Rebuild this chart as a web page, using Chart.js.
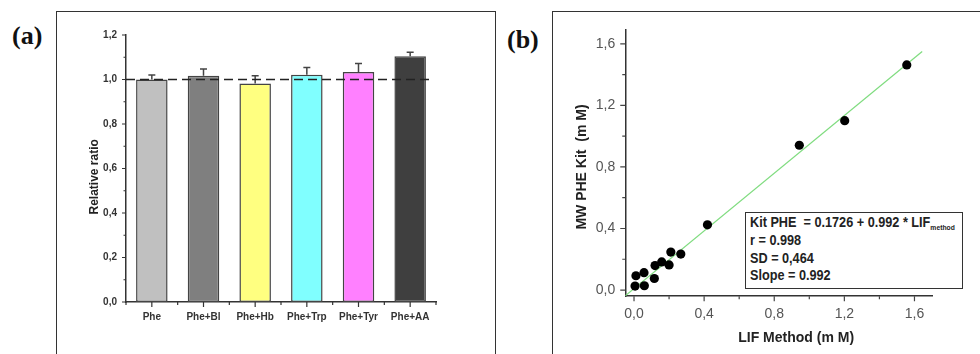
<!DOCTYPE html>
<html><head><meta charset="utf-8">
<script src="https://cdn.jsdelivr.net/npm/chart.js@4.4.1/dist/chart.umd.min.js"></script>
<style>
html,body{margin:0;padding:0;background:#fff;width:980px;height:354px;overflow:hidden;}
#wrap{position:relative;width:980px;height:354px;}
.frame{position:absolute;border:1.5px solid #333;box-sizing:border-box;}
#fa{left:56px;top:11px;width:440px;height:360px;}
#fb{left:552px;top:11px;width:440px;height:360px;}
.panel{position:absolute;font-family:"Liberation Serif","Times New Roman",serif;font-weight:bold;font-size:26px;line-height:30px;color:#111;}
#pa{left:12px;top:21px;}
#pb{left:507px;top:25px;}
canvas{position:absolute;top:0;}
#ca{left:0;}
#cb{left:490px;}
#eq{position:absolute;left:745px;top:212px;width:218px;height:77px;border:1.5px solid #333;box-sizing:border-box;background:#fff;}
#eq .t{position:absolute;left:4px;top:0px;font-family:"Liberation Sans",Arial,sans-serif;font-weight:bold;font-size:15px;line-height:17.8px;color:#222;transform:scaleX(0.845);transform-origin:0 0;white-space:nowrap;}
#eq sub{font-size:8px;line-height:0;vertical-align:baseline;position:relative;top:3px;font-weight:bold;}
</style></head>
<body><div id="wrap">
<div class="frame" id="fa"></div>
<div class="frame" id="fb"></div>
<div class="panel" id="pa">(a)</div>
<div class="panel" id="pb">(b)</div>
<canvas id="ca" width="490" height="354"></canvas>
<canvas id="cb" width="490" height="354"></canvas>
<div id="eq"><div class="t">Kit PHE&nbsp; = 0.1726 + 0.992 * LIF<sub>method</sub><br>r = 0.998<br>SD = 0,464<br>Slope = 0.992</div></div>
</div>
<script>
// ---- Panel (a) data ----
const categories = ['Phe','Phe+Bl','Phe+Hb','Phe+Trp','Phe+Tyr','Phe+AA'];
const ratios     = [1.000, 1.017, 0.982, 1.021, 1.034, 1.104];
const ratioErr   = [0.020, 0.030, 0.035, 0.033, 0.038, 0.018];
const barColors  = ['#c0c0c0','#7f7f7f','#ffff80','#80ffff','#ff80ff','#3f3f3f'];
const aYTicks    = [0, 0.2, 0.4, 0.6, 0.8, 1.0, 1.2];
const refValue   = 1.0;

// ---- Panel (b) data ----
const lifX = [1.556, 1.202, 0.943, 0.419, 0.267, 0.210, 0.200, 0.158, 0.120, 0.116, 0.057, 0.059, 0.011, 0.006];
const kitY = [1.463, 1.101, 0.941, 0.424, 0.234, 0.247, 0.163, 0.183, 0.159, 0.075, 0.113, 0.028, 0.093, 0.026];
const fitX = [-0.05, 1.644];
const fitY = [-0.037, 1.55];
const bTicks = [0, 0.4, 0.8, 1.2, 1.6];

const fmt = v => v.toFixed(1).replace('.', ',');

const tickMarks = {
  id: 'tickMarks',
  afterDraw(chart, args, opts) {
    const ctx = chart.ctx; ctx.save();
    ctx.strokeStyle = opts.color; ctx.lineWidth = opts.width;
    ctx.beginPath();
    for (const id of Object.keys(opts.axes)) {
      const sc = chart.scales[id]; const a = opts.axes[id];
      const marks = [];
      if (sc.type === 'category') {
        const n = sc.getLabels().length;
        for (let i = 0; i < n; i++) marks.push([sc.getPixelForValue(i), a.majorLen]);
        for (let i = 0; i <= n; i++) marks.push([sc.getPixelForValue(i - 0.5), a.minorLen]);
      } else {
        const n = Math.round((a.to - a.from) / a.minor);
        for (let i = 0; i <= n; i++) {
          const v = a.from + i * a.minor;
          const r = v / a.major;
          const maj = Math.abs(r - Math.round(r)) < 1e-6;
          marks.push([sc.getPixelForValue(v), maj ? a.majorLen : a.minorLen]);
        }
      }
      for (const [p, len] of marks) {
        if (sc.isHorizontal()) { const y = chart.chartArea.bottom; ctx.moveTo(p, y); ctx.lineTo(p, y + len); }
        else { const x = chart.chartArea.left; ctx.moveTo(x, p); ctx.lineTo(x - len, p); }
      }
    }
    ctx.stroke(); ctx.restore();
  }
};

const errorBars = {
  id: 'errorBars',
  afterDatasetsDraw(chart, args, opts) {
    const ctx = chart.ctx; const ds = chart.data.datasets[0];
    const meta = chart.getDatasetMeta(0); const ys = chart.scales.y;
    ctx.save(); ctx.strokeStyle = opts.color; ctx.lineWidth = opts.width;
    ctx.beginPath();
    meta.data.forEach((bar, i) => {
      const top = ys.getPixelForValue(ds.data[i] + ds.errors[i]);
      ctx.moveTo(bar.x, bar.y); ctx.lineTo(bar.x, top);
      ctx.moveTo(bar.x - opts.cap, top); ctx.lineTo(bar.x + opts.cap, top);
    });
    ctx.stroke();
    const y = ys.getPixelForValue(opts.ref);
    ctx.setLineDash([9, 5]); ctx.strokeStyle = '#222'; ctx.lineWidth = 1.5;
    ctx.beginPath(); ctx.moveTo(chart.chartArea.left, y); ctx.lineTo(chart.chartArea.right - 6, y); ctx.stroke();
    ctx.restore();
  }
};

new Chart(document.getElementById('ca'), {
  type: 'bar',
  data: { labels: categories, datasets: [{
    data: ratios, errors: ratioErr, backgroundColor: barColors,
    borderColor: '#444', borderWidth: 1.5, borderSkipped: false,
    categoryPercentage: 1, barPercentage: 0.61
  }]},
  options: {
    responsive: false, animation: false,
    layout: { padding: { left: 80, top: 35, right: 54, bottom: 0 } },
    plugins: { legend: { display: false }, tooltip: { enabled: false },
      errorBars: { color: '#444', width: 1.5, cap: 3.5, ref: refValue },
      tickMarks: { color: '#333', width: 1.2, axes: {
        x: { majorLen: 5, minorLen: 3 },
        y: { from: 0, to: 1.2, minor: 0.1, major: 0.2, majorLen: 4, minorLen: 2.5 } } } },
    scales: {
      x: { type: 'category', offset: true, grid: { display: false, drawTicks: false },
        border: { display: true, color: '#333', width: 1.5 },
        ticks: { padding: 9, color: '#333', font: { family: 'Liberation Sans, Arial, sans-serif', size: 10, weight: 'bold' }, maxRotation: 0 },
        afterFit: s => { s.height = 52; } },
      y: { type: 'linear', min: 0, max: 1.2, grid: { display: false, drawTicks: false },
        border: { display: true, color: '#333', width: 1.5 },
        afterBuildTicks: s => { s.ticks = aYTicks.map(v => ({ value: v })); },
        ticks: { padding: 9, color: '#333', callback: v => fmt(v), font: { family: 'Liberation Sans, Arial, sans-serif', size: 10, weight: 'bold' } },
        title: { display: true, text: 'Relative ratio     ', color: '#222', padding: { top: 7, bottom: 0 }, font: { family: 'Liberation Sans, Arial, sans-serif', size: 12, weight: 'bold' } },
        afterFit: s => { s.width = 46; } }
    }
  },
  plugins: [errorBars, tickMarks]
});

new Chart(document.getElementById('cb'), {
  type: 'scatter',
  data: { datasets: [
    { type: 'scatter', data: lifX.map((x, i) => ({ x, y: kitY[i] })), backgroundColor: '#000', borderWidth: 0, pointRadius: 4.6, order: 0 },
    { type: 'line', data: fitX.map((x, i) => ({ x, y: fitY[i] })), borderColor: '#7fdc7f', borderWidth: 1.2, pointRadius: 0, fill: false, order: 1 }
  ]},
  options: {
    responsive: false, animation: false,
    layout: { padding: { left: 78, top: 30, right: 48, bottom: 0 } },
    plugins: { legend: { display: false }, tooltip: { enabled: false },
      tickMarks: { color: '#444', width: 1.2, axes: {
        x: { from: 0, to: 1.6, minor: 0.2, major: 0.4, majorLen: 5, minorLen: 3 },
        y: { from: 0, to: 1.6, minor: 0.2, major: 0.4, majorLen: 5, minorLen: 3 } } } },
    scales: {
      x: { type: 'linear', min: -0.05, max: 1.70, grid: { display: false, drawTicks: false },
        border: { display: true, color: '#333', width: 1.5 },
        afterBuildTicks: s => { s.ticks = bTicks.map(v => ({ value: v })); },
        ticks: { padding: 10, color: '#555', callback: v => fmt(v), maxRotation: 0, font: { family: 'Liberation Sans Narrow, Arial Narrow, Liberation Sans, sans-serif', size: 14 } },
        title: { display: true, text: '         LIF Method (m M)', color: '#222', padding: { top: 0, bottom: 7.6 }, font: { family: 'Liberation Sans, Arial, sans-serif', size: 14, weight: 'bold' } },
        afterFit: s => { s.height = 57.8; } },
      y: { type: 'linear', min: -0.04, max: 1.69, grid: { display: false, drawTicks: false },
        border: { display: true, color: '#333', width: 1.5 },
        afterBuildTicks: s => { s.ticks = bTicks.map(v => ({ value: v })); },
        ticks: { padding: 10, color: '#555', callback: v => fmt(v), font: { family: 'Liberation Sans Narrow, Arial Narrow, Liberation Sans, sans-serif', size: 14 } },
        title: { display: true, text: 'MW PHE Kit  (m M)  ', color: '#222', padding: { top: 5.6, bottom: 0 }, font: { family: 'Liberation Sans, Arial, sans-serif', size: 14, weight: 'bold' } },
        afterFit: s => { s.width = 57.25; } }
    }
  },
  plugins: [tickMarks]
});
</script>
</body></html>
